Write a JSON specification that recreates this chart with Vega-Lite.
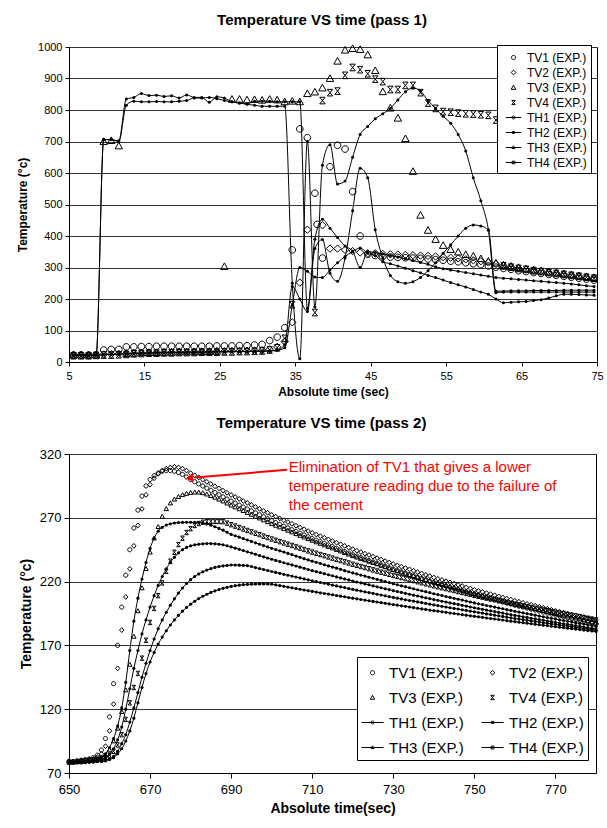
{
  "$schema": "https://vega.github.io/schema/vega-lite/v6.json",
  "background": "white",
  "padding": {"left": 16, "top": 12, "right": 4, "bottom": 2},
  "spacing": 17,
  "config": {
    "font": "Liberation Sans",
    "view": {"stroke": "black", "strokeWidth": 1},
    "axis": {"domainColor": "black", "tickColor": "black", "labelColor": "black", "titleColor": "black", "gridColor": "#333333", "gridWidth": 1, "gridOpacity": 1, "labelFont": "Liberation Sans", "titleFont": "Liberation Sans", "titleFontWeight": "bold", "domainWidth": 1},
    "legend": {"labelFont": "Liberation Sans", "labelColor": "black"},
    "title": {"font": "Liberation Sans", "fontWeight": "bold", "color": "black"}
  },
  "resolve": {"scale": {"shape": "independent", "x": "independent", "y": "independent"}, "legend": {"shape": "independent"}},
  "datasets": {
    "top": [
      {"t":5.6,"TV1":22,"TV2":21,"TV3":22,"TV4":20,"TH1":22,"TH2":22,"TH3":21,"TH4":21},
      {"t":6.6,"TV1":22,"TV2":21,"TV3":22,"TV4":20,"TH1":22,"TH2":22,"TH3":21,"TH4":21},
      {"t":7.6,"TV1":22,"TV2":21,"TV3":22,"TV4":20,"TH1":22,"TH2":22,"TH3":21,"TH4":21},
      {"t":8.6,"TV1":22,"TV2":22,"TV3":22,"TV4":21,"TH1":22,"TH2":22,"TH3":22,"TH4":22},
      {"t":9.6,"TV1":38,"TV2":24,"TV3":700,"TV4":22,"TH1":706,"TH2":706,"TH3":23,"TH4":23},
      {"t":10.6,"TV1":40,"TV2":25,"TV3":703,"TV4":22,"TH1":706,"TH2":706,"TH3":24,"TH4":24},
      {"t":11.6,"TV1":40,"TV2":26,"TV3":686,"TV4":23,"TH1":700,"TH2":702,"TH3":25,"TH4":25},
      {"t":12.6,"TV1":48,"TV2":27,"TV3":26,"TV4":24,"TH1":815,"TH2":835,"TH3":26,"TH4":26},
      {"t":13.6,"TV1":48,"TV2":28,"TV3":28,"TV4":26,"TH1":828,"TH2":840,"TH3":27,"TH4":27},
      {"t":14.6,"TV1":49,"TV2":29,"TV3":29,"TV4":27,"TH1":826,"TH2":852,"TH3":28,"TH4":28},
      {"t":15.6,"TV1":49,"TV2":30,"TV3":30,"TV4":28,"TH1":826,"TH2":846,"TH3":28,"TH4":29},
      {"t":16.6,"TV1":50,"TV2":30,"TV3":30,"TV4":28,"TH1":827,"TH2":847,"TH3":29,"TH4":29},
      {"t":17.6,"TV1":50,"TV2":31,"TV3":31,"TV4":29,"TH1":826,"TH2":843,"TH3":29,"TH4":30},
      {"t":18.6,"TV1":50,"TV2":31,"TV3":31,"TV4":29,"TH1":826,"TH2":845,"TH3":30,"TH4":30},
      {"t":19.6,"TV1":50,"TV2":32,"TV3":32,"TV4":30,"TH1":828,"TH2":838,"TH3":30,"TH4":31},
      {"t":20.6,"TV1":50,"TV2":32,"TV3":32,"TV4":30,"TH1":830,"TH2":848,"TH3":31,"TH4":31},
      {"t":21.6,"TV1":50,"TV2":33,"TV3":32,"TV4":30,"TH1":838,"TH2":840,"TH3":31,"TH4":32},
      {"t":22.6,"TV1":50,"TV2":33,"TV3":33,"TV4":31,"TH1":838,"TH2":840,"TH3":31,"TH4":32},
      {"t":23.6,"TV1":50,"TV2":33,"TV3":33,"TV4":31,"TH1":840,"TH2":825,"TH3":32,"TH4":32},
      {"t":24.6,"TV1":51,"TV2":34,"TV3":34,"TV4":31,"TH1":836,"TH2":842,"TH3":32,"TH4":33},
      {"t":25.6,"TV1":51,"TV2":34,"TV3":303,"TV4":32,"TH1":830,"TH2":838,"TH3":32,"TH4":33},
      {"t":26.6,"TV1":51,"TV2":35,"TV3":834,"TV4":32,"TH1":826,"TH2":826,"TH3":33,"TH4":33},
      {"t":27.6,"TV1":52,"TV2":35,"TV3":834,"TV4":33,"TH1":822,"TH2":822,"TH3":33,"TH4":34},
      {"t":28.6,"TV1":52,"TV2":36,"TV3":832,"TV4":33,"TH1":818,"TH2":820,"TH3":33,"TH4":34},
      {"t":29.6,"TV1":54,"TV2":36,"TV3":833,"TV4":34,"TH1":815,"TH2":828,"TH3":34,"TH4":35},
      {"t":30.6,"TV1":56,"TV2":37,"TV3":831,"TV4":35,"TH1":812,"TH2":828,"TH3":34,"TH4":35},
      {"t":31.6,"TV1":68,"TV2":40,"TV3":834,"TV4":38,"TH1":812,"TH2":828,"TH3":35,"TH4":36},
      {"t":32.6,"TV1":79,"TV2":48,"TV3":832,"TV4":45,"TH1":812,"TH2":826,"TH3":37,"TH4":38},
      {"t":33.6,"TV1":109,"TV2":65,"TV3":826,"TV4":75,"TH1":812,"TH2":826,"TH3":45,"TH4":55},
      {"t":34.6,"TV1":356,"TV2":126,"TV3":828,"TV4":182,"TH1":250,"TH2":826,"TH3":180,"TH4":240},
      {"t":35.6,"TV1":740,"TV2":252,"TV3":826,"TV4":null,"TH1":10,"TH2":826,"TH3":300,"TH4":200},
      {"t":36.6,"TV1":712,"TV2":420,"TV3":852,"TV4":null,"TH1":700,"TH2":170,"TH3":288,"TH4":160},
      {"t":37.6,"TV1":536,"TV2":null,"TV3":857,"TV4":157,"TH1":175,"TH2":390,"TH3":270,"TH4":360},
      {"t":37.9,"TV1":437},
      {"t":38.6,"TV1":330,"TV2":434,"TV3":870,"TV4":830,"TH1":625,"TH2":453,"TH3":268,"TH4":389},
      {"t":39.6,"TV1":620,"TV2":360,"TV3":900,"TV4":855,"TH1":690,"TH2":425,"TH3":292,"TH4":282},
      {"t":40.6,"TV1":688,"TV2":360,"TV3":955,"TV4":860,"TH1":565,"TH2":395,"TH3":315,"TH4":256},
      {"t":41.6,"TV1":676,"TV2":356,"TV3":990,"TV4":910,"TH1":575,"TH2":368,"TH3":335,"TH4":330},
      {"t":42.6,"TV1":541,"TV2":352,"TV3":995,"TV4":935,"TH1":650,"TH2":352,"TH3":350,"TH4":480},
      {"t":43.6,"TV1":400,"TV2":348,"TV3":992,"TV4":928,"TH1":722,"TH2":300,"TH3":362,"TH4":615},
      {"t":44.6,"TV1":342,"TV2":345,"TV3":975,"TV4":915,"TH1":748,"TH2":350,"TH3":345,"TH4":585},
      {"t":45.6,"TV1":338,"TV2":345,"TV3":925,"TV4":898,"TH1":772,"TH2":348,"TH3":338,"TH4":420},
      {"t":46.6,"TV1":335,"TV2":343,"TV3":858,"TV4":890,"TH1":788,"TH2":343,"TH3":318,"TH4":330},
      {"t":47.6,"TV1":333,"TV2":342,"TV3":806,"TV4":865,"TH1":805,"TH2":338,"TH3":312,"TH4":275},
      {"t":48.6,"TV1":332,"TV2":341,"TV3":774,"TV4":865,"TH1":832,"TH2":333,"TH3":305,"TH4":255},
      {"t":49.6,"TV1":331,"TV2":340,"TV3":709,"TV4":878,"TH1":858,"TH2":328,"TH3":298,"TH4":250},
      {"t":50.6,"TV1":330,"TV2":339,"TV3":605,"TV4":878,"TH1":870,"TH2":322,"TH3":290,"TH4":255},
      {"t":51.6,"TV1":329,"TV2":338,"TV3":466,"TV4":855,"TH1":860,"TH2":316,"TH3":283,"TH4":268},
      {"t":52.6,"TV1":327,"TV2":337,"TV3":418,"TV4":822,"TH1":830,"TH2":310,"TH3":275,"TH4":290},
      {"t":53.6,"TV1":325,"TV2":335,"TV3":389,"TV4":805,"TH1":805,"TH2":302,"TH3":268,"TH4":315},
      {"t":54.6,"TV1":323,"TV2":333,"TV3":370,"TV4":795,"TH1":780,"TH2":296,"TH3":260,"TH4":345},
      {"t":55.6,"TV1":320,"TV2":331,"TV3":357,"TV4":793,"TH1":758,"TH2":292,"TH3":252,"TH4":372},
      {"t":56.6,"TV1":318,"TV2":329,"TV3":349,"TV4":790,"TH1":722,"TH2":288,"TH3":245,"TH4":400},
      {"t":57.6,"TV1":315,"TV2":326,"TV3":341,"TV4":788,"TH1":670,"TH2":284,"TH3":238,"TH4":425},
      {"t":58.6,"TV1":312,"TV2":323,"TV3":336,"TV4":787,"TH1":585,"TH2":280,"TH3":230,"TH4":435},
      {"t":59.6,"TV1":309,"TV2":320,"TV3":328,"TV4":785,"TH1":512,"TH2":276,"TH3":222,"TH4":432},
      {"t":60.6,"TV1":305,"TV2":316,"TV3":320,"TV4":783,"TH1":420,"TH2":272,"TH3":215,"TH4":418},
      {"t":61.6,"TV1":301,"TV2":311,"TV3":314,"TV4":768,"TH1":220,"TH2":268,"TH3":200,"TH4":225},
      {"t":62.6,"TV1":297,"TV2":306,"TV3":308,"TV4":305,"TH1":222,"TH2":266,"TH3":188,"TH4":225},
      {"t":63.6,"TV1":294,"TV2":302,"TV3":304,"TV4":301,"TH1":222,"TH2":264,"TH3":190,"TH4":226},
      {"t":64.6,"TV1":290,"TV2":298,"TV3":300,"TV4":297,"TH1":222,"TH2":262,"TH3":191,"TH4":226},
      {"t":65.6,"TV1":287,"TV2":294,"TV3":296,"TV4":294,"TH1":222,"TH2":260,"TH3":192,"TH4":226},
      {"t":66.6,"TV1":284,"TV2":291,"TV3":292,"TV4":290,"TH1":222,"TH2":258,"TH3":195,"TH4":227},
      {"t":67.6,"TV1":281,"TV2":288,"TV3":289,"TV4":287,"TH1":222,"TH2":256,"TH3":198,"TH4":227},
      {"t":68.6,"TV1":278,"TV2":285,"TV3":286,"TV4":284,"TH1":222,"TH2":254,"TH3":203,"TH4":227},
      {"t":69.6,"TV1":275,"TV2":282,"TV3":283,"TV4":281,"TH1":222,"TH2":252,"TH3":210,"TH4":227},
      {"t":70.6,"TV1":272,"TV2":279,"TV3":280,"TV4":278,"TH1":222,"TH2":250,"TH3":215,"TH4":228},
      {"t":71.6,"TV1":269,"TV2":276,"TV3":277,"TV4":275,"TH1":222,"TH2":248,"TH3":215,"TH4":228},
      {"t":72.6,"TV1":266,"TV2":273,"TV3":274,"TV4":272,"TH1":222,"TH2":245,"TH3":214,"TH4":228},
      {"t":73.6,"TV1":263,"TV2":270,"TV3":271,"TV4":269,"TH1":222,"TH2":242,"TH3":213,"TH4":228},
      {"t":74.6,"TV1":260,"TV2":267,"TV3":268,"TV4":266,"TH1":222,"TH2":240,"TH3":212,"TH4":228}
    ],
    "bot": [
      {"t":650,"TV1":79,"TV2":79,"TV3":79,"TV4":78.5,"TH1":78,"TH2":78,"TH3":78,"TH4":78},
      {"t":651,"TV1":79,"TV2":79,"TV3":79,"TV4":78.5,"TH1":78,"TH2":78,"TH3":78,"TH4":78},
      {"t":652,"TV1":79.5,"TV2":79,"TV3":79,"TV4":79,"TH1":78.5,"TH2":78,"TH3":78,"TH4":78},
      {"t":653,"TV1":80,"TV2":79.5,"TV3":79.5,"TV4":79,"TH1":78.5,"TH2":78.5,"TH3":78,"TH4":78},
      {"t":654,"TV1":80.5,"TV2":80,"TV3":80,"TV4":79.5,"TH1":79,"TH2":78.5,"TH3":78.5,"TH4":78},
      {"t":655,"TV1":81,"TV2":80.5,"TV3":80,"TV4":80,"TH1":79,"TH2":79,"TH3":78.5,"TH4":78.5},
      {"t":656,"TV1":82,"TV2":81,"TV3":80.5,"TV4":80,"TH1":79.5,"TH2":79,"TH3":79,"TH4":78.5},
      {"t":657,"TV1":84,"TV2":82.5,"TV3":81,"TV4":80.5,"TH1":80.5,"TH2":79.5,"TH3":79,"TH4":79},
      {"t":658,"TV1":88,"TV2":85,"TV3":82,"TV4":81,"TH1":82,"TH2":80.5,"TH3":79.5,"TH4":79},
      {"t":659,"TV1":97,"TV2":91,"TV3":84,"TV4":82,"TH1":85,"TH2":82,"TH3":80.5,"TH4":79.5},
      {"t":660,"TV1":114,"TV2":103,"TV3":88,"TV4":84,"TH1":90,"TH2":84.5,"TH3":81,"TH4":80.5},
      {"t":661,"TV1":140,"TV2":124,"TV3":95,"TV4":87,"TH1":97,"TH2":89,"TH3":83,"TH4":82},
      {"t":662,"TV1":170,"TV2":152,"TV3":105,"TV4":92,"TH1":107,"TH2":96,"TH3":87,"TH4":85},
      {"t":663,"TV1":200,"TV2":182,"TV3":118,"TV4":100,"TH1":121,"TH2":106,"TH3":93,"TH4":89},
      {"t":664,"TV1":225,"TV2":208,"TV3":135,"TV4":112,"TH1":141,"TH2":120,"TH3":100,"TH4":95},
      {"t":665,"TV1":245,"TV2":230,"TV3":155,"TV4":125,"TH1":166,"TH2":136,"TH3":110,"TH4":103},
      {"t":666,"TV1":262,"TV2":248,"TV3":177,"TV4":137,"TH1":189,"TH2":152,"TH3":121,"TH4":113},
      {"t":667,"TV1":276,"TV2":264,"TV3":197,"TV4":148,"TH1":207,"TH2":166,"TH3":133,"TH4":125},
      {"t":668,"TV1":287,"TV2":277,"TV3":215,"TV4":160,"TH1":222,"TH2":179,"TH3":145,"TH4":137},
      {"t":669,"TV1":295,"TV2":288,"TV3":230,"TV4":174,"TH1":235,"TH2":190,"TH3":156,"TH4":148},
      {"t":670,"TV1":300,"TV2":296,"TV3":243,"TV4":188,"TH1":246,"TH2":200,"TH3":166,"TH4":157},
      {"t":671,"TV1":303,"TV2":301,"TV3":254,"TV4":199,"TH1":254,"TH2":209,"TH3":175,"TH4":164.5},
      {"t":672,"TV1":305,"TV2":304.5,"TV3":263,"TV4":209,"TH1":259.5,"TH2":217,"TH3":183,"TH4":171},
      {"t":673,"TV1":306.5,"TV2":307,"TV3":271,"TV4":219,"TH1":262.5,"TH2":224,"TH3":190,"TH4":176.5},
      {"t":674,"TV1":307,"TV2":308.5,"TV3":277,"TV4":228,"TH1":264.3,"TH2":230,"TH3":196,"TH4":181.5},
      {"t":675,"TV1":307,"TV2":309.5,"TV3":281.5,"TV4":236,"TH1":265.3,"TH2":235,"TH3":201.5,"TH4":186},
      {"t":676,"TV1":306.5,"TV2":310,"TV3":284.5,"TV4":243,"TH1":265.9,"TH2":239,"TH3":206.5,"TH4":190},
      {"t":677,"TV1":305.5,"TV2":309.5,"TV3":286.5,"TV4":249,"TH1":266.2,"TH2":242.5,"TH3":211,"TH4":193.5},
      {"t":678,"TV1":304,"TV2":308.5,"TV3":288,"TV4":254,"TH1":266.4,"TH2":245,"TH3":215,"TH4":196.8},
      {"t":679,"TV1":302,"TV2":307,"TV3":289,"TV4":258.5,"TH1":266.5,"TH2":246.8,"TH3":218.5,"TH4":199.7},
      {"t":680,"TV1":300,"TV2":305,"TV3":289.7,"TV4":261.5,"TH1":266.5,"TH2":248,"TH3":221.5,"TH4":202.3},
      {"t":681,"TV1":298.3,"TV2":303.3,"TV3":290,"TV4":264,"TH1":266.4,"TH2":248.8,"TH3":224,"TH4":204.6},
      {"t":682,"TV1":296.6,"TV2":301.6,"TV3":290,"TV4":265.5,"TH1":266.3,"TH2":249.3,"TH3":226,"TH4":206.7},
      {"t":683,"TV1":294.9,"TV2":299.9,"TV3":289.5,"TV4":266.5,"TH1":266,"TH2":249.6,"TH3":227.7,"TH4":208.5},
      {"t":684,"TV1":293.2,"TV2":298.2,"TV3":288.5,"TV4":267,"TH1":265.2,"TH2":249.8,"TH3":229,"TH4":210.1},
      {"t":685,"TV1":291.5,"TV2":296.5,"TV3":287.3,"TV4":267.2,"TH1":264.2,"TH2":249.8,"TH3":230.2,"TH4":211.5},
      {"t":686,"TV1":289.8,"TV2":294.7,"TV3":286,"TV4":267.2,"TH1":263,"TH2":249.6,"TH3":231.1,"TH4":212.7},
      {"t":687,"TV1":288.1,"TV2":293,"TV3":284.5,"TV4":267.1,"TH1":261.7,"TH2":249.3,"TH3":231.8,"TH4":213.8},
      {"t":688,"TV1":286.4,"TV2":291.3,"TV3":283,"TV4":267,"TH1":260.3,"TH2":248.9,"TH3":232.3,"TH4":214.7},
      {"t":689,"TV1":284.7,"TV2":289.6,"TV3":281.4,"TV4":265.8,"TH1":258.7,"TH2":248.1,"TH3":232.7,"TH4":215.5},
      {"t":690,"TV1":283,"TV2":287.9,"TV3":279.8,"TV4":264.6,"TH1":257,"TH2":247.2,"TH3":233,"TH4":216.2},
      {"t":691,"TV1":281.5,"TV2":286.3,"TV3":278.4,"TV4":263.5,"TH1":255.9,"TH2":246.2,"TH3":233,"TH4":216.8},
      {"t":692,"TV1":279.9,"TV2":284.8,"TV3":276.9,"TV4":262.4,"TH1":254.8,"TH2":245.3,"TH3":232.9,"TH4":217.2},
      {"t":693,"TV1":278.4,"TV2":283.2,"TV3":275.5,"TV4":261.2,"TH1":253.7,"TH2":244.3,"TH3":232.7,"TH4":217.6},
      {"t":694,"TV1":276.9,"TV2":281.7,"TV3":274,"TV4":260.1,"TH1":252.6,"TH2":243.3,"TH3":232.5,"TH4":217.8},
      {"t":695,"TV1":275.4,"TV2":280.1,"TV3":272.6,"TV4":259,"TH1":251.5,"TH2":242.4,"TH3":231.8,"TH4":218},
      {"t":696,"TV1":273.8,"TV2":278.5,"TV3":271.1,"TV4":257.9,"TH1":250.4,"TH2":241.4,"TH3":231,"TH4":218.1},
      {"t":697,"TV1":272.3,"TV2":277,"TV3":269.7,"TV4":256.8,"TH1":249.3,"TH2":240.4,"TH3":230.2,"TH4":218.2},
      {"t":698,"TV1":270.8,"TV2":275.4,"TV3":268.2,"TV4":255.6,"TH1":248.2,"TH2":239.4,"TH3":229.5,"TH4":218.2},
      {"t":699,"TV1":269.2,"TV2":273.9,"TV3":266.8,"TV4":254.5,"TH1":247.2,"TH2":238.5,"TH3":228.7,"TH4":218.1},
      {"t":700,"TV1":267.7,"TV2":272.3,"TV3":265.3,"TV4":253.4,"TH1":246.1,"TH2":237.5,"TH3":227.9,"TH4":218},
      {"t":701,"TV1":266.3,"TV2":270.9,"TV3":264,"TV4":252.4,"TH1":245.1,"TH2":236.6,"TH3":227.2,"TH4":217.4},
      {"t":702,"TV1":264.9,"TV2":269.5,"TV3":262.7,"TV4":251.3,"TH1":244.1,"TH2":235.7,"TH3":226.5,"TH4":216.9},
      {"t":703,"TV1":263.5,"TV2":268.1,"TV3":261.4,"TV4":250.3,"TH1":243.1,"TH2":234.8,"TH3":225.7,"TH4":216.3},
      {"t":704,"TV1":262.1,"TV2":266.7,"TV3":260.1,"TV4":249.3,"TH1":242.1,"TH2":233.9,"TH3":225,"TH4":215.7},
      {"t":705,"TV1":260.7,"TV2":265.3,"TV3":258.8,"TV4":248.3,"TH1":241.1,"TH2":233.1,"TH3":224.3,"TH4":215.2},
      {"t":706,"TV1":259.3,"TV2":263.8,"TV3":257.4,"TV4":247.2,"TH1":240,"TH2":232.2,"TH3":223.6,"TH4":214.6},
      {"t":707,"TV1":257.9,"TV2":262.4,"TV3":256.1,"TV4":246.2,"TH1":239,"TH2":231.3,"TH3":222.9,"TH4":214},
      {"t":708,"TV1":256.5,"TV2":261,"TV3":254.8,"TV4":245.2,"TH1":238,"TH2":230.4,"TH3":222.1,"TH4":213.4},
      {"t":709,"TV1":255.1,"TV2":259.6,"TV3":253.5,"TV4":244.1,"TH1":237,"TH2":229.5,"TH3":221.4,"TH4":212.9},
      {"t":710,"TV1":253.7,"TV2":258.2,"TV3":252.2,"TV4":243.1,"TH1":236,"TH2":228.6,"TH3":220.7,"TH4":212.3},
      {"t":711,"TV1":252.4,"TV2":256.9,"TV3":251,"TV4":242.2,"TH1":235.1,"TH2":227.8,"TH3":220,"TH4":211.8},
      {"t":712,"TV1":251.2,"TV2":255.6,"TV3":249.8,"TV4":241.2,"TH1":234.2,"TH2":227,"TH3":219.3,"TH4":211.2},
      {"t":713,"TV1":249.9,"TV2":254.4,"TV3":248.6,"TV4":240.3,"TH1":233.2,"TH2":226.2,"TH3":218.7,"TH4":210.7},
      {"t":714,"TV1":248.7,"TV2":253.1,"TV3":247.4,"TV4":239.3,"TH1":232.3,"TH2":225.4,"TH3":218,"TH4":210.2},
      {"t":715,"TV1":247.4,"TV2":251.8,"TV3":246.2,"TV4":238.4,"TH1":231.4,"TH2":224.6,"TH3":217.3,"TH4":209.7},
      {"t":716,"TV1":246.1,"TV2":250.5,"TV3":245,"TV4":237.4,"TH1":230.5,"TH2":223.7,"TH3":216.6,"TH4":209.1},
      {"t":717,"TV1":244.9,"TV2":249.2,"TV3":243.8,"TV4":236.5,"TH1":229.6,"TH2":222.9,"TH3":215.9,"TH4":208.6},
      {"t":718,"TV1":243.6,"TV2":248,"TV3":242.6,"TV4":235.5,"TH1":228.6,"TH2":222.1,"TH3":215.3,"TH4":208.1},
      {"t":719,"TV1":242.4,"TV2":246.7,"TV3":241.4,"TV4":234.6,"TH1":227.7,"TH2":221.3,"TH3":214.6,"TH4":207.5},
      {"t":720,"TV1":241.1,"TV2":245.4,"TV3":240.2,"TV4":233.6,"TH1":226.8,"TH2":220.5,"TH3":213.9,"TH4":207},
      {"t":721,"TV1":240,"TV2":244.2,"TV3":239.1,"TV4":232.7,"TH1":226,"TH2":219.7,"TH3":213.3,"TH4":206.5},
      {"t":722,"TV1":238.8,"TV2":243.1,"TV3":238,"TV4":231.8,"TH1":225.1,"TH2":219,"TH3":212.6,"TH4":206},
      {"t":723,"TV1":237.7,"TV2":241.9,"TV3":236.9,"TV4":231,"TH1":224.3,"TH2":218.2,"TH3":212,"TH4":205.5},
      {"t":724,"TV1":236.5,"TV2":240.8,"TV3":235.8,"TV4":230.1,"TH1":223.4,"TH2":217.5,"TH3":211.4,"TH4":205},
      {"t":725,"TV1":235.4,"TV2":239.6,"TV3":234.8,"TV4":229.2,"TH1":222.6,"TH2":216.7,"TH3":210.8,"TH4":204.5},
      {"t":726,"TV1":234.3,"TV2":238.4,"TV3":233.7,"TV4":228.3,"TH1":221.7,"TH2":215.9,"TH3":210.1,"TH4":204},
      {"t":727,"TV1":233.1,"TV2":237.3,"TV3":232.6,"TV4":227.4,"TH1":220.9,"TH2":215.2,"TH3":209.5,"TH4":203.5},
      {"t":728,"TV1":232,"TV2":236.1,"TV3":231.5,"TV4":226.6,"TH1":220,"TH2":214.4,"TH3":208.9,"TH4":203},
      {"t":729,"TV1":230.8,"TV2":235,"TV3":230.4,"TV4":225.7,"TH1":219.2,"TH2":213.7,"TH3":208.2,"TH4":202.5},
      {"t":730,"TV1":229.7,"TV2":233.8,"TV3":229.3,"TV4":224.8,"TH1":218.3,"TH2":212.9,"TH3":207.6,"TH4":202},
      {"t":731,"TV1":228.7,"TV2":232.7,"TV3":228.3,"TV4":224,"TH1":217.5,"TH2":212.2,"TH3":207,"TH4":201.5},
      {"t":732,"TV1":227.6,"TV2":231.7,"TV3":227.3,"TV4":223.2,"TH1":216.7,"TH2":211.5,"TH3":206.4,"TH4":201},
      {"t":733,"TV1":226.6,"TV2":230.6,"TV3":226.4,"TV4":222.4,"TH1":216,"TH2":210.8,"TH3":205.8,"TH4":200.6},
      {"t":734,"TV1":225.6,"TV2":229.6,"TV3":225.4,"TV4":221.6,"TH1":215.2,"TH2":210.1,"TH3":205.2,"TH4":200.1},
      {"t":735,"TV1":224.6,"TV2":228.5,"TV3":224.4,"TV4":220.8,"TH1":214.4,"TH2":209.4,"TH3":204.7,"TH4":199.6},
      {"t":736,"TV1":223.5,"TV2":227.4,"TV3":223.4,"TV4":219.9,"TH1":213.6,"TH2":208.7,"TH3":204.1,"TH4":199.1},
      {"t":737,"TV1":222.5,"TV2":226.4,"TV3":222.4,"TV4":219.1,"TH1":212.8,"TH2":208,"TH3":203.5,"TH4":198.6},
      {"t":738,"TV1":221.5,"TV2":225.3,"TV3":221.5,"TV4":218.3,"TH1":212.1,"TH2":207.3,"TH3":202.9,"TH4":198.2},
      {"t":739,"TV1":220.4,"TV2":224.3,"TV3":220.5,"TV4":217.5,"TH1":211.3,"TH2":206.6,"TH3":202.3,"TH4":197.7},
      {"t":740,"TV1":219.4,"TV2":223.2,"TV3":219.5,"TV4":216.7,"TH1":210.5,"TH2":205.9,"TH3":201.7,"TH4":197.2},
      {"t":741,"TV1":218.5,"TV2":222.2,"TV3":218.6,"TV4":216,"TH1":209.8,"TH2":205.3,"TH3":201.2,"TH4":196.8},
      {"t":742,"TV1":217.5,"TV2":221.3,"TV3":217.7,"TV4":215.2,"TH1":209.1,"TH2":204.6,"TH3":200.6,"TH4":196.3},
      {"t":743,"TV1":216.6,"TV2":220.3,"TV3":216.8,"TV4":214.5,"TH1":208.3,"TH2":204,"TH3":200.1,"TH4":195.9},
      {"t":744,"TV1":215.6,"TV2":219.4,"TV3":215.9,"TV4":213.7,"TH1":207.6,"TH2":203.3,"TH3":199.5,"TH4":195.4},
      {"t":745,"TV1":214.7,"TV2":218.4,"TV3":215,"TV4":213,"TH1":206.9,"TH2":202.7,"TH3":199,"TH4":195},
      {"t":746,"TV1":213.8,"TV2":217.4,"TV3":214.1,"TV4":212.2,"TH1":206.2,"TH2":202.1,"TH3":198.5,"TH4":194.6},
      {"t":747,"TV1":212.8,"TV2":216.5,"TV3":213.2,"TV4":211.5,"TH1":205.5,"TH2":201.4,"TH3":197.9,"TH4":194.1},
      {"t":748,"TV1":211.9,"TV2":215.5,"TV3":212.3,"TV4":210.7,"TH1":204.7,"TH2":200.8,"TH3":197.4,"TH4":193.7},
      {"t":749,"TV1":210.9,"TV2":214.6,"TV3":211.4,"TV4":210,"TH1":204,"TH2":200.1,"TH3":196.8,"TH4":193.2},
      {"t":750,"TV1":210,"TV2":213.6,"TV3":210.5,"TV4":209.2,"TH1":203.3,"TH2":199.5,"TH3":196.3,"TH4":192.8},
      {"t":751,"TV1":209.2,"TV2":212.7,"TV3":209.7,"TV4":208.5,"TH1":202.6,"TH2":198.9,"TH3":195.8,"TH4":192.4},
      {"t":752,"TV1":208.3,"TV2":211.9,"TV3":208.9,"TV4":207.8,"TH1":202,"TH2":198.3,"TH3":195.3,"TH4":192},
      {"t":753,"TV1":207.5,"TV2":211,"TV3":208,"TV4":207.1,"TH1":201.3,"TH2":197.7,"TH3":194.7,"TH4":191.5},
      {"t":754,"TV1":206.6,"TV2":210.2,"TV3":207.2,"TV4":206.4,"TH1":200.7,"TH2":197.1,"TH3":194.2,"TH4":191.1},
      {"t":755,"TV1":205.8,"TV2":209.3,"TV3":206.4,"TV4":205.8,"TH1":200,"TH2":196.5,"TH3":193.7,"TH4":190.7},
      {"t":756,"TV1":204.9,"TV2":208.4,"TV3":205.6,"TV4":205.1,"TH1":199.3,"TH2":195.9,"TH3":193.2,"TH4":190.3},
      {"t":757,"TV1":204.1,"TV2":207.6,"TV3":204.8,"TV4":204.4,"TH1":198.7,"TH2":195.3,"TH3":192.7,"TH4":189.9},
      {"t":758,"TV1":203.2,"TV2":206.7,"TV3":203.9,"TV4":203.7,"TH1":198,"TH2":194.7,"TH3":192.1,"TH4":189.4},
      {"t":759,"TV1":202.4,"TV2":205.9,"TV3":203.1,"TV4":203,"TH1":197.4,"TH2":194.1,"TH3":191.6,"TH4":189},
      {"t":760,"TV1":201.5,"TV2":205,"TV3":202.3,"TV4":202.3,"TH1":196.7,"TH2":193.5,"TH3":191.1,"TH4":188.6},
      {"t":761,"TV1":200.7,"TV2":204.2,"TV3":201.6,"TV4":201.7,"TH1":196.1,"TH2":193,"TH3":190.6,"TH4":188.2},
      {"t":762,"TV1":200,"TV2":203.4,"TV3":200.8,"TV4":201,"TH1":195.5,"TH2":192.4,"TH3":190.2,"TH4":187.8},
      {"t":763,"TV1":199.2,"TV2":202.6,"TV3":200.1,"TV4":200.4,"TH1":194.9,"TH2":191.9,"TH3":189.7,"TH4":187.4},
      {"t":764,"TV1":198.4,"TV2":201.8,"TV3":199.3,"TV4":199.7,"TH1":194.3,"TH2":191.3,"TH3":189.2,"TH4":187},
      {"t":765,"TV1":197.7,"TV2":201.1,"TV3":198.6,"TV4":199.1,"TH1":193.7,"TH2":190.8,"TH3":188.8,"TH4":186.6},
      {"t":766,"TV1":196.9,"TV2":200.3,"TV3":197.8,"TV4":198.5,"TH1":193,"TH2":190.2,"TH3":188.3,"TH4":186.2},
      {"t":767,"TV1":196.1,"TV2":199.5,"TV3":197.1,"TV4":197.8,"TH1":192.4,"TH2":189.7,"TH3":187.8,"TH4":185.8},
      {"t":768,"TV1":195.3,"TV2":198.7,"TV3":196.3,"TV4":197.2,"TH1":191.8,"TH2":189.1,"TH3":187.3,"TH4":185.4},
      {"t":769,"TV1":194.6,"TV2":197.9,"TV3":195.6,"TV4":196.5,"TH1":191.2,"TH2":188.6,"TH3":186.9,"TH4":185},
      {"t":770,"TV1":193.8,"TV2":197.1,"TV3":194.8,"TV4":195.9,"TH1":190.6,"TH2":188,"TH3":186.4,"TH4":184.6},
      {"t":771,"TV1":193.1,"TV2":196.4,"TV3":194.1,"TV4":195.3,"TH1":190,"TH2":187.5,"TH3":186,"TH4":184.2},
      {"t":772,"TV1":192.4,"TV2":195.7,"TV3":193.4,"TV4":194.7,"TH1":189.5,"TH2":187,"TH3":185.5,"TH4":183.9},
      {"t":773,"TV1":191.7,"TV2":194.9,"TV3":192.8,"TV4":194.1,"TH1":188.9,"TH2":186.5,"TH3":185.1,"TH4":183.5},
      {"t":774,"TV1":191,"TV2":194.2,"TV3":192.1,"TV4":193.5,"TH1":188.4,"TH2":186,"TH3":184.6,"TH4":183.1},
      {"t":775,"TV1":190.4,"TV2":193.5,"TV3":191.4,"TV4":193,"TH1":187.8,"TH2":185.5,"TH3":184.2,"TH4":182.8},
      {"t":776,"TV1":189.7,"TV2":192.8,"TV3":190.7,"TV4":192.4,"TH1":187.2,"TH2":184.9,"TH3":183.7,"TH4":182.4},
      {"t":777,"TV1":189,"TV2":192.1,"TV3":190,"TV4":191.8,"TH1":186.7,"TH2":184.4,"TH3":183.3,"TH4":182},
      {"t":778,"TV1":188.3,"TV2":191.3,"TV3":189.4,"TV4":191.2,"TH1":186.1,"TH2":183.9,"TH3":182.8,"TH4":181.6},
      {"t":779,"TV1":187.6,"TV2":190.6,"TV3":188.7,"TV4":190.6,"TH1":185.6,"TH2":183.4,"TH3":182.4,"TH4":181.3},
      {"t":780,"TV1":186.9,"TV2":189.9,"TV3":188,"TV4":190,"TH1":185,"TH2":182.9,"TH3":181.9,"TH4":180.9}
    ],
    "note": [{"t":704.2,"v":315.5,"label":"Elimination of TV1 that gives a lower\ntemperature reading due to the failure of\nthe cement"}],
    "arrow": [{"t":703.8,"v":307.6,"t2":681,"v2":301.5}],
    "head": [{"t":679.7,"v":301.3}]
  },
  "vconcat": [
    {
      "width": 528,
      "height": 315,
      "title": {"text": "Temperature VS time (pass 1)", "fontSize": 15, "offset": 13, "dx": -11},
      "encoding": {
        "x": {"field": "t", "type": "quantitative", "scale": {"domain": [5, 75], "nice": false, "zero": false},
              "axis": {"values": [5, 15, 25, 35, 45, 55, 65, 75], "title": "Absolute time (sec)", "grid": false, "labelFontSize": 11, "titleFontSize": 12, "tickSize": 4, "labelPadding": 4, "titlePadding": 5, "labelFlush": false}},
        "y": {"field": "v", "type": "quantitative", "scale": {"domain": [0, 1000], "nice": false},
              "axis": {"values": [0, 100, 200, 300, 400, 500, 600, 700, 800, 900, 1000], "format": "d", "title": "Temperature (°c)", "grid": true, "labelFontSize": 11, "titleFontSize": 12, "tickSize": 4, "labelPadding": 3, "titlePadding": 8}}
      },
      "layer": [
        {
          "data": {"name": "top"},
          "transform": [{"fold": ["TH1", "TH2", "TH3", "TH4"], "as": ["s", "v"]}, {"filter": "isValid(datum.v)"}],
          "mark": {"type": "line", "interpolate": "monotone", "color": "black", "strokeWidth": 1, "clip": true},
          "encoding": {"detail": {"field": "s", "type": "nominal"}}
        },
        {
          "data": {"name": "top"},
          "transform": [{"fold": ["TH1", "TH2", "TH3", "TH4"], "as": ["s", "v"]}, {"filter": "isValid(datum.v)"}],
          "mark": {"type": "point", "filled": true, "shape": "circle", "size": 9, "color": "black", "opacity": 1}
        },
        {
          "data": {"name": "top"},
          "transform": [{"fold": ["TV1", "TV2", "TV3", "TV4"], "as": ["s", "v"]}, {"filter": "isValid(datum.v)"}],
          "mark": {"type": "point", "filled": false, "color": "black", "strokeWidth": 1, "size": 600, "opacity": 1},
          "encoding": {
            "shape": {"field": "s", "type": "nominal",
              "scale": {"domain": ["TV1", "TV2", "TV3", "TV4", "TH1", "TH2", "TH3", "TH4"],
                "range": [
                  "M-0.27,0A0.27,0.27 0 1,0 0.27,0A0.27,0.27 0 1,0 -0.27,0Z",
                  "M0,-0.3L0.3,0L0,0.3L-0.3,0Z",
                  "M0,-0.3L0.3,0.24L-0.3,0.24Z",
                  "M-0.22,-0.27L0.22,0.27M0.22,-0.27L-0.22,0.27M-0.22,-0.27H0.22M-0.22,0.27H0.22",
                  "M-1,0H1M-0.2,0A0.2,0.2 0 1,0 0.2,0A0.2,0.2 0 1,0 -0.2,0Z",
                  "M-1,0H1M-0.13,-0.13H0.13V0.13H-0.13Z",
                  "M-1,0H1M0,-0.22L0.2,0.14H-0.2Z",
                  "M-1,0H1M-0.17,-0.17H0.17V0.17H-0.17Z"
                ]},
              "legend": {"title": null, "orient": "none", "legendX": 428, "legendY": -2, "strokeColor": "black", "fillColor": "white", "padding": 4, "symbolOffset": 4, "symbolSize": 240, "symbolStrokeWidth": 1, "symbolStrokeColor": "black", "symbolOpacity": 1, "labelFontSize": 12, "labelOffset": 5, "rowPadding": 0, "labelExpr": "datum.label + ' (EXP.)'"}
            }
          }
        }
      ]
    },
    {
      "width": 527,
      "height": 319,
      "title": {"text": "Temperature VS time (pass 2)", "fontSize": 15, "offset": 17, "dx": -11},
      "encoding": {
        "x": {"field": "t", "type": "quantitative", "scale": {"domain": [650, 780], "nice": false, "zero": false},
              "axis": {"values": [650, 670, 690, 710, 730, 750, 770], "title": "Absolute time(sec)", "grid": false, "labelFontSize": 13, "titleFontSize": 14, "tickSize": 5, "labelPadding": 5, "titlePadding": 5, "labelFlush": false}},
        "y": {"field": "v", "type": "quantitative", "scale": {"domain": [70, 320], "nice": false, "zero": false},
              "axis": {"values": [70, 120, 170, 220, 270, 320], "title": "Temperature (°c)", "grid": true, "labelFontSize": 13, "titleFontSize": 14, "tickSize": 5, "labelPadding": 3, "titlePadding": 6}}
      },
      "layer": [
        {
          "data": {"name": "bot"},
          "transform": [{"fold": ["TH1", "TH2", "TH3", "TH4"], "as": ["s", "v"]}],
          "mark": {"type": "line", "interpolate": "monotone", "color": "black", "strokeWidth": 1, "clip": true},
          "encoding": {"detail": {"field": "s", "type": "nominal"}}
        },
        {
          "data": {"name": "bot"},
          "transform": [{"fold": ["TH1", "TH2", "TH3", "TH4"], "as": ["s", "v"]}],
          "mark": {"type": "point", "filled": true, "shape": "circle", "size": 10, "color": "black", "opacity": 1}
        },
        {
          "data": {"name": "bot"},
          "transform": [{"fold": ["TV1", "TV2", "TV3", "TV4"], "as": ["s", "v"]}],
          "mark": {"type": "point", "filled": false, "color": "black", "strokeWidth": 1, "size": 484, "opacity": 1},
          "encoding": {
            "shape": {"field": "s", "type": "nominal",
              "scale": {"domain": ["TV1", "TV2", "TV3", "TV4", "TH1", "TH2", "TH3", "TH4"],
                "range": [
                  "M-0.19,0A0.19,0.19 0 1,0 0.19,0A0.19,0.19 0 1,0 -0.19,0Z",
                  "M0,-0.22L0.2,0L0,0.22L-0.2,0Z",
                  "M0,-0.2L0.2,0.16L-0.2,0.16Z",
                  "M-0.16,-0.2L0.16,0.2M0.16,-0.2L-0.16,0.2M-0.16,-0.2H0.16M-0.16,0.2H0.16",
                  "M-1,0H1M-0.14,0A0.14,0.14 0 1,0 0.14,0A0.14,0.14 0 1,0 -0.14,0Z",
                  "M-1,0H1M-0.1,-0.1H0.1V0.1H-0.1Z",
                  "M-1,0H1M0,-0.15L0.14,0.1H-0.14Z",
                  "M-1,0H1M-0.13,-0.13H0.13V0.13H-0.13Z"
                ]},
              "legend": {"title": null, "orient": "none", "direction": "horizontal", "legendX": 288, "legendY": 203, "columns": 2, "columnPadding": 15, "strokeColor": "black", "fillColor": "white", "padding": 4, "symbolSize": 484, "symbolStrokeWidth": 1, "symbolStrokeColor": "black", "symbolOpacity": 1, "labelFontSize": 15, "labelOffset": 5, "rowPadding": 5, "labelExpr": "datum.label + ' (EXP.)'"}
            }
          }
        },
        {
          "data": {"name": "arrow"},
          "mark": {"type": "rule", "color": "#ff0000", "strokeWidth": 2},
          "encoding": {"x2": {"field": "t2"}, "y2": {"field": "v2"}}
        },
        {
          "data": {"name": "head"},
          "mark": {"type": "point", "shape": "triangle-left", "filled": true, "color": "#ff0000", "size": 70, "opacity": 1, "angle": -5}
        },
        {
          "data": {"name": "note"},
          "mark": {"type": "text", "align": "left", "baseline": "top", "fontSize": 15, "color": "#ff0000", "lineBreak": "\n", "lineHeight": 19, "font": "Liberation Sans"},
          "encoding": {"text": {"field": "label"}}
        }
      ]
    }
  ]
}
